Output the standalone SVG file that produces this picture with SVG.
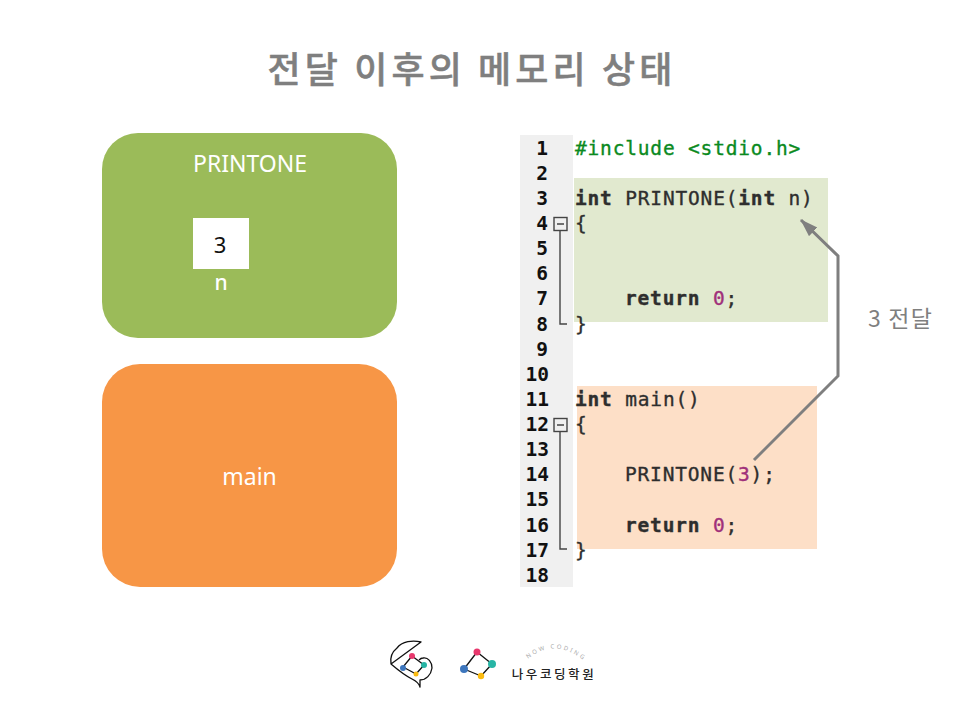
<svg xmlns="http://www.w3.org/2000/svg" width="960" height="720" viewBox="0 0 960 720">
<defs>
<marker id="ah" markerUnits="userSpaceOnUse" markerWidth="18" markerHeight="14" refX="17" refY="6" orient="auto"><path d="M0 0L18 6L0 12Z" fill="#7f7f7f"/></marker>
</defs>
<style>
text{font-family:"Noto Sans","Noto Sans CJK KR",sans-serif}
.c{font-family:"DejaVu Sans Mono",monospace;font-size:19.5px;letter-spacing:.82px;fill:#2e2e2e;stroke:#2e2e2e;stroke-width:.35px}
.b{font-weight:700}
.n{font-family:"DejaVu Sans Mono",monospace;font-size:19.5px;font-weight:700;fill:#111;text-anchor:end}
.num{fill:#a0307a;stroke:#a0307a}
.f{fill:none;stroke:#444;stroke-width:1.4}
.w{fill:#fff;font-size:23px;text-anchor:middle}
.lk{stroke:#111;stroke-width:1.3;fill:none;stroke-linejoin:round}
</style>
<rect width="960" height="720" fill="#fff"/>
<text id="title" x="472" y="83" text-anchor="middle" style="font-family:'Noto Sans CJK KR',sans-serif;font-size:36px;font-weight:500;letter-spacing:4.1px" fill="#7f7f7f" stroke="#7f7f7f" stroke-width=".5">전달 이후의 메모리 상태</text>
<g id="printone"><rect x="102" y="133" width="295" height="205" rx="36" fill="#9bbb59"/><text class="w" x="250" y="172">PRINTONE</text></g>
<g id="var-n"><rect x="193" y="218" width="56" height="51" fill="#fff"/><text x="220" y="253" text-anchor="middle" font-size="22" fill="#111">3</text><text x="221" y="290" text-anchor="middle" font-size="21" font-weight="500" fill="#fff">n</text></g>
<g id="main"><rect x="102" y="364" width="295" height="223" rx="38" fill="#f79646"/><text class="w" x="249.500" y="485">main</text></g>
<g id="code">
<rect x="520" y="135" width="53" height="452" fill="#f0f0f0"/>
<rect x="574" y="178" width="254" height="144" fill="#e1e9cf"/>
<rect x="577" y="386" width="240" height="163" fill="#fddfc7"/>
<g>
<text class="n" x="548" y="155">1</text><text class="n" x="548" y="180">2</text><text class="n" x="548" y="205">3</text><text class="n" x="548" y="230">4</text><text class="n" x="548" y="255">5</text><text class="n" x="548" y="280">6</text><text class="n" x="548" y="305">7</text><text class="n" x="548" y="331">8</text><text class="n" x="548" y="356">9</text><text class="n" x="549" y="381">10</text><text class="n" x="549" y="406">11</text><text class="n" x="549" y="431">12</text><text class="n" x="549" y="456">13</text><text class="n" x="549" y="481">14</text><text class="n" x="549" y="506">15</text><text class="n" x="549" y="532">16</text><text class="n" x="549" y="557">17</text><text class="n" x="549" y="582">18</text>
</g>
<rect class="f" x="554" y="217.500" width="13" height="13"/><path class="f" d="M557 224H564M560 231V324H567"/>
<rect class="f" x="554" y="418.500" width="13" height="13"/><path class="f" d="M557 425H564M560 432V549H567"/>
<text class="c" x="575" y="155" style="fill:#0a8a1e;stroke:#0a8a1e">#include &lt;stdio.h&gt;</text>
<text class="c" x="575" y="205"><tspan class="b">int</tspan> PRINTONE(<tspan class="b">int</tspan> n)</text>
<text class="c" x="575" y="230">{</text>
<text class="c" x="625" y="305"><tspan class="b">return</tspan> <tspan class="num">0</tspan>;</text>
<text class="c" x="575" y="331">}</text>
<text class="c" x="575" y="406"><tspan class="b">int</tspan> main()</text>
<text class="c" x="575" y="431">{</text>
<text class="c" x="625" y="481">PRINTONE(<tspan class="num">3</tspan>);</text>
<text class="c" x="625" y="532"><tspan class="b">return</tspan> <tspan class="num">0</tspan>;</text>
<text class="c" x="575" y="557">}</text>
</g>
<g id="connectors"><path d="M754 460L838 376V256L801 220" fill="none" stroke="#7f7f7f" stroke-width="3" marker-end="url(#ah)"/></g>
<text id="edge-label" x="900.500" y="327" text-anchor="middle" font-size="23" letter-spacing="1.200" fill="#7f7f7f" style="font-family:'Noto Sans CJK KR',sans-serif">3 전달</text>
<g id="logo">
<path class="lk" d="M421 642C413 640 402 641 397 648C392 652 390 658 391 664ZM391 664C398 670 404 675 412 679C416 681 419 683 420 687L420 680C426 680 431 675 432 668C432 662 428 657 423 658C421 658 420 659 419 660"/>
<path class="lk" d="M412 656L424 665L416 674L403 667Z"/>
<circle cx="412" cy="656" r="3" fill="#e8386d"/><circle cx="424" cy="665" r="3" fill="#27b5a5"/><circle cx="416" cy="674" r="2.500" fill="#fbbb10"/><circle cx="403" cy="668" r="3" fill="#3d76bd"/>
<path class="lk" d="M477 652L492 664L481 676L464 669Z"/>
<circle cx="477" cy="652" r="3.500" fill="#e8386d"/><circle cx="492" cy="664" r="4" fill="#27b5a5"/><circle cx="481" cy="676" r="3.200" fill="#fbbb10"/><circle cx="464" cy="669" r="4" fill="#3d76bd"/>
<path id="arc" d="M528 659Q553 638 582 659" fill="none"/>
<text font-size="6" fill="#aaa" letter-spacing="2.200"><textPath href="#arc" startOffset="0">NOW CODING</textPath></text>
<text x="554" y="679" text-anchor="middle" font-size="12.500" font-weight="500" fill="#222" letter-spacing="2.600" style="font-family:'Noto Sans CJK KR',sans-serif">나우코딩학원</text>
</g>
</svg>
